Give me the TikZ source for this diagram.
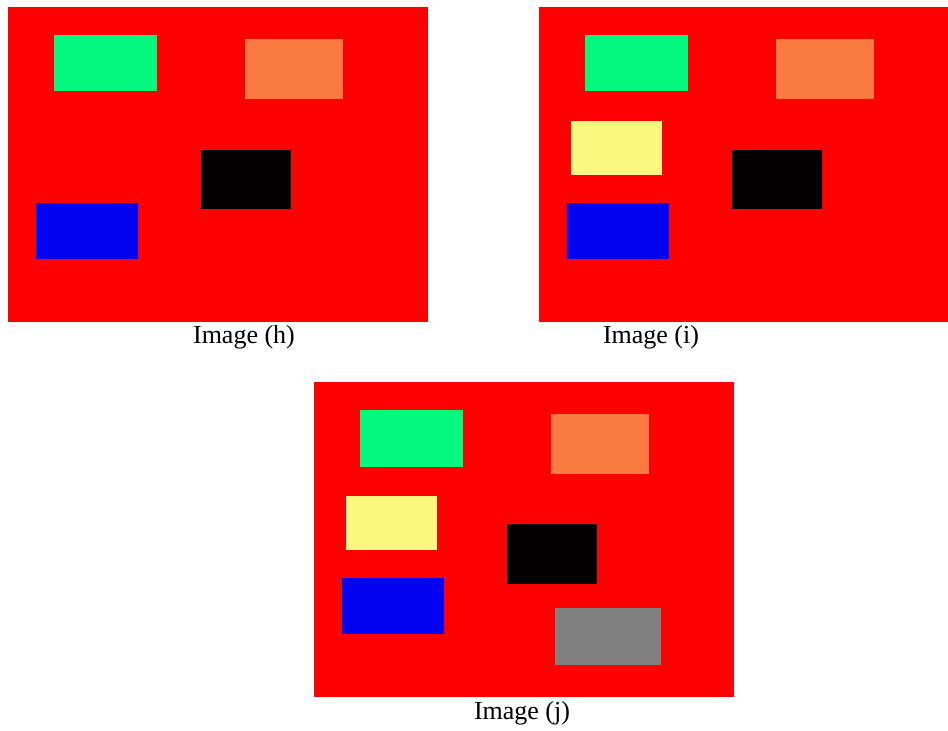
\documentclass[tikz,border=0pt]{standalone}
\usepackage{fontspec}
\setmainfont{Liberation Serif}
\definecolor{bgred}{RGB}{254,0,0}
\definecolor{cgreen}{RGB}{5,248,126}
\definecolor{corange}{RGB}{250,122,66}
\definecolor{cyellow}{RGB}{255,248,128}
\definecolor{cblue}{RGB}{2,2,240}
\definecolor{cgray}{RGB}{128,128,128}
\definecolor{cblack}{RGB}{2,0,0}
\tikzset{
  box/.style={fill=#1, draw=none},
  caption/.style={font=\fontsize{26}{30}\selectfont, inner sep=0pt, anchor=center}
}
\begin{document}
\begin{tikzpicture}[x=1pt,y=-1pt]
\useasboundingbox (0,0) rectangle (948,731);
\fill[white] (0,0) rectangle (948,731);
% Panel h
\begin{scope}[shift={(8,7)}]
  \fill[box=bgred] (0,0) rectangle (420,315);
  \fill[box=cgreen] (46,28) rectangle (149,84);
  \fill[box=corange] (237,32) rectangle (335,92);
  \fill[box=cblack] (193,143) rectangle (283,202);
  \fill[box=cblue] (28,196) rectangle (130,252);
\end{scope}
\node[caption] (capH) at (244,337) {Image (h)};
% Panel i
\begin{scope}[shift={(539,7)}]
  \fill[box=bgred] (0,0) rectangle (409,315);
  \fill[box=cgreen] (46,28) rectangle (149,84);
  \fill[box=corange] (237,32) rectangle (335,92);
  \fill[box=cyellow] (32,114) rectangle (123,168);
  \fill[box=cblack] (193,143) rectangle (283,202);
  \fill[box=cblue] (28,196) rectangle (130,252);
\end{scope}
\node[caption] (capI) at (651,337) {Image (i)};
% Panel j
\begin{scope}[shift={(314,382)}]
  \fill[box=bgred] (0,0) rectangle (420,315);
  \fill[box=cgreen] (46,28) rectangle (149,85);
  \fill[box=corange] (237,32) rectangle (335,92);
  \fill[box=cyellow] (32,114) rectangle (123,168);
  \fill[box=cblack] (193,142) rectangle (283,202);
  \fill[box=cblue] (28,196) rectangle (130,252);
  \fill[box=cgray] (241,226) rectangle (347,283);
\end{scope}
\node[caption] (capJ) at (522,713) {Image (j)};
\end{tikzpicture}
\end{document}
